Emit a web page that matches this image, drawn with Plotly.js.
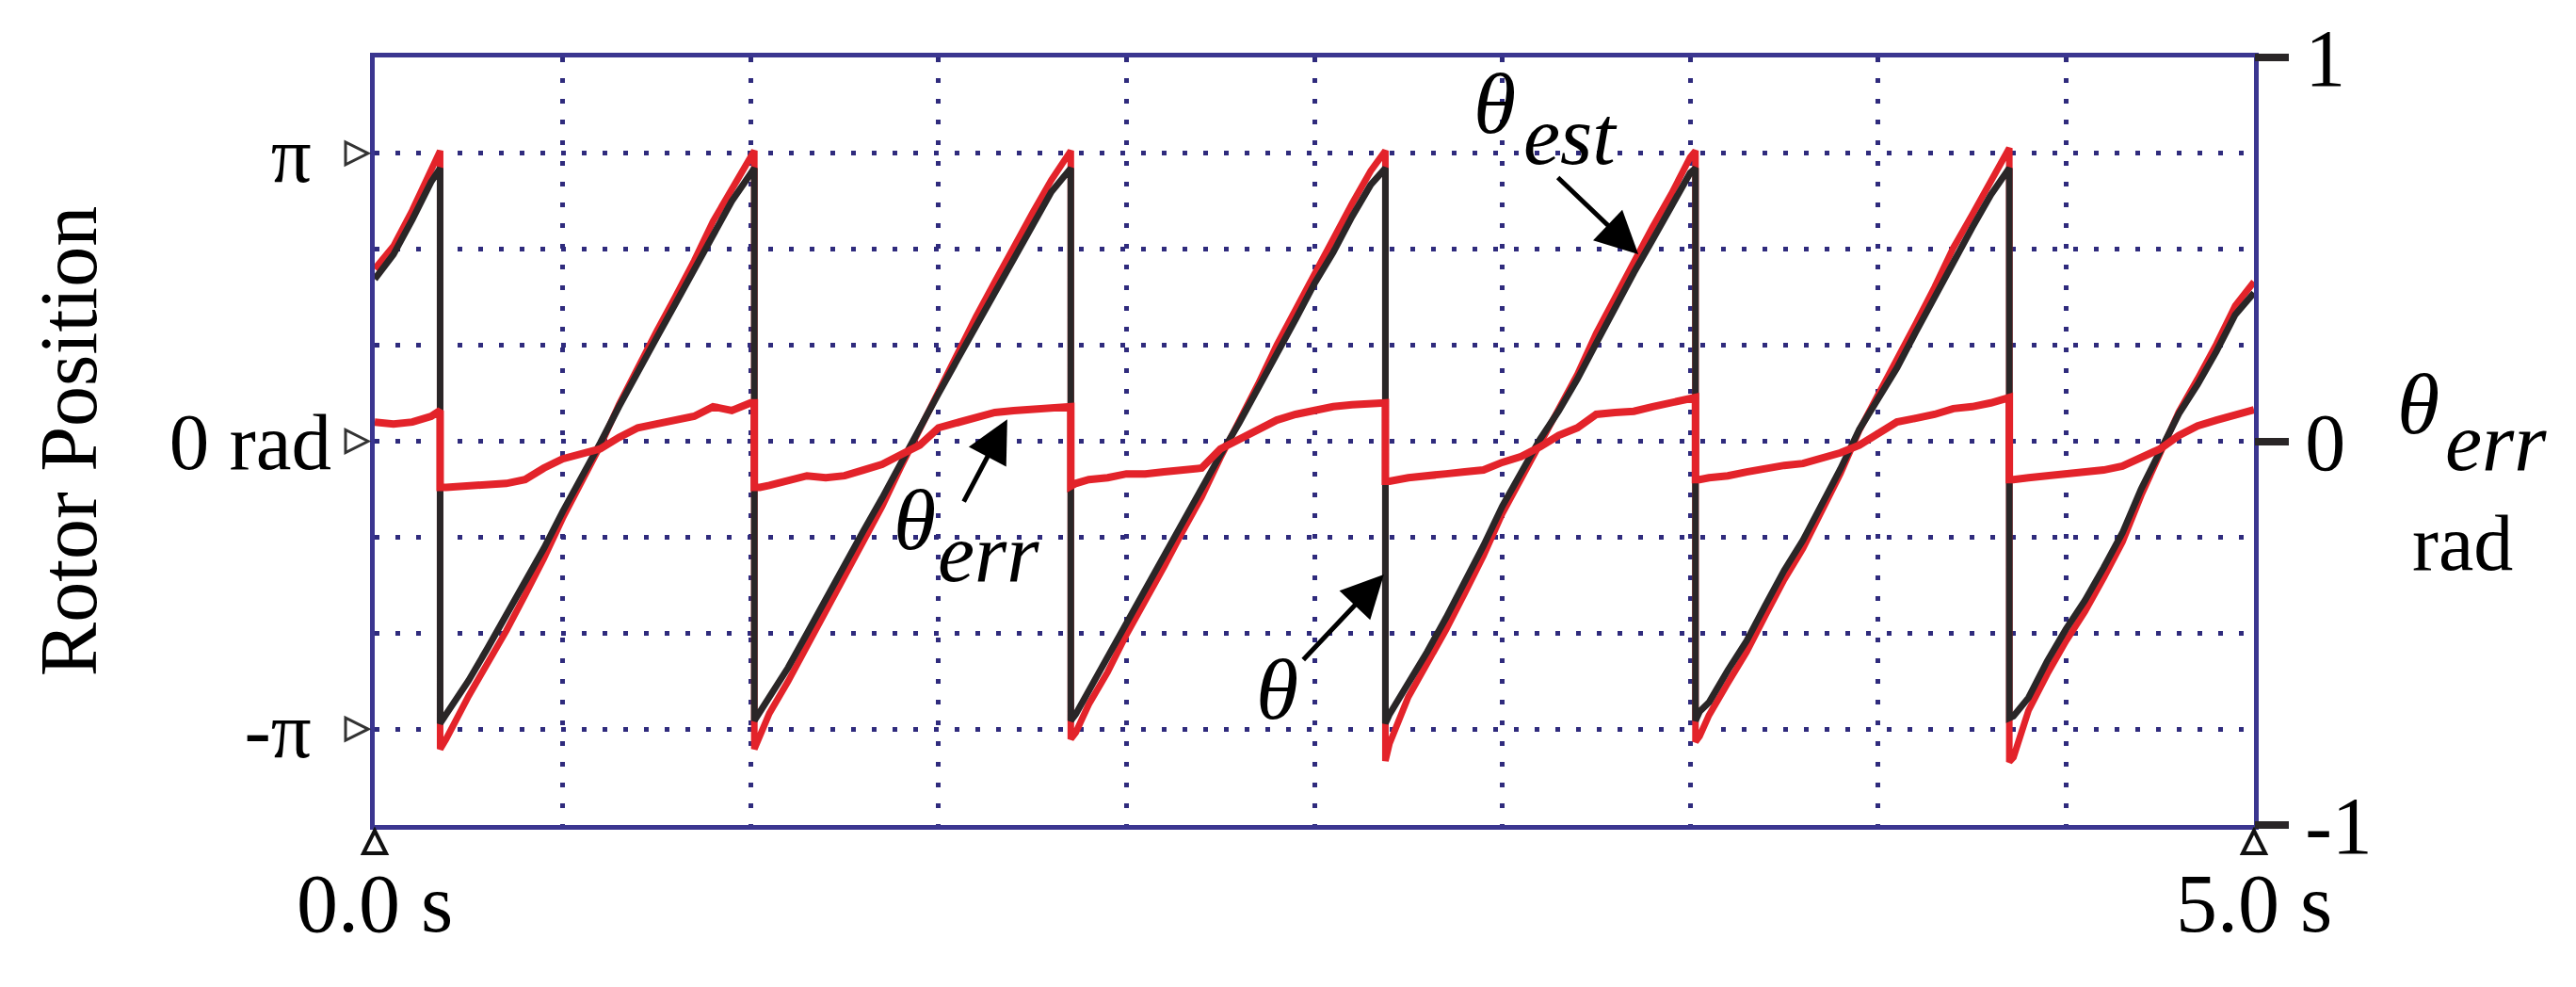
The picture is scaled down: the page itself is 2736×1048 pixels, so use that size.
<!DOCTYPE html>
<html>
<head>
<meta charset="utf-8">
<script src="https://cdn.plot.ly/plotly-3.0.1.min.js"></script>
<style>
  html, body { margin: 0; padding: 0; background: #fff; }
</style>
</head>
<body>
<div id="chart" style="width:2736px;height:1048px;"></div>
<script>
// time base (s), jumps are repeated x values
const time = [
  0, 0.05, 0.1, 0.15, 0.174,
  0.174, 0.19,
  0.25, 0.3, 0.35, 0.4, 0.45, 0.5, 0.55, 0.6, 0.65, 0.7, 0.75, 0.8, 0.85, 0.9, 0.95, 1.0,
  1.01, 1.01, 1.025,
  1.05, 1.1, 1.15, 1.2, 1.25, 1.3, 1.35, 1.4, 1.45, 1.5, 1.55, 1.6, 1.65, 1.7, 1.75, 1.8,
  1.852, 1.852, 1.865,
  1.9, 1.95, 2.0, 2.05, 2.1, 2.15, 2.2, 2.25, 2.3, 2.35, 2.4, 2.45, 2.5, 2.55, 2.6, 2.65,
  2.689, 2.689, 2.7,
  2.75, 2.8, 2.85, 2.9, 2.95, 3.0, 3.05, 3.1, 3.15, 3.2, 3.25, 3.3, 3.35, 3.4, 3.45, 3.5,
  3.514, 3.514, 3.525,
  3.55, 3.6, 3.65, 3.7, 3.75, 3.8, 3.85, 3.9, 3.95, 4.0, 4.05, 4.1, 4.15, 4.2, 4.25, 4.3,
  4.349, 4.349, 4.36,
  4.4, 4.45, 4.5, 4.55, 4.6, 4.65, 4.7, 4.75, 4.8, 4.85, 4.9, 4.95, 5.0
];

// rotor position theta (rad), black trace
const theta = [
  1.77, 2.04, 2.42, 2.83, 2.98,
  -3.08, -2.98,
  -2.61, -2.26, -1.90, -1.53, -1.17, -0.77, -0.40, -0.02, 0.38, 0.77, 1.13, 1.50, 1.87, 2.26, 2.62, 2.92,
  2.98, -3.05, -2.95,
  -2.80, -2.47, -2.10, -1.72, -1.35, -0.98, -0.62, -0.23, 0.14, 0.52, 0.89, 1.26, 1.63, 2.01, 2.37, 2.72,
  2.98, -3.05, -2.98,
  -2.72, -2.38, -1.98, -1.62, -1.25, -0.87, -0.50, -0.15, 0.20, 0.57, 0.97, 1.33, 1.72, 2.06, 2.45, 2.80,
  2.98, -3.08, -2.98,
  -2.65, -2.30, -1.93, -1.54, -1.14, -0.71, -0.35, 0.02, 0.33, 0.68, 1.07, 1.46, 1.84, 2.20, 2.55, 2.93,
  2.98, -3.05, -2.95,
  -2.85, -2.50, -2.18, -1.79, -1.41, -1.08, -0.70, -0.30, 0.13, 0.47, 0.80, 1.19, 1.57, 1.98, 2.33, 2.69,
  2.98, -3.02, -3.00,
  -2.80, -2.40, -2.05, -1.74, -1.38, -1.00, -0.52, -0.12, 0.30, 0.62, 0.98, 1.38, 1.62
];

// estimated position theta_est (rad), red trace
const thetaEst = [
  1.88, 2.13, 2.52, 2.95, 3.17,
  -3.36, -3.25,
  -2.78, -2.43, -2.07, -1.68, -1.28, -0.84, -0.45, -0.05, 0.40, 0.82, 1.20, 1.58, 1.97, 2.40, 2.74, 3.07,
  3.17, -3.36, -3.20,
  -2.97, -2.62, -2.24, -1.86, -1.49, -1.09, -0.71, -0.28, 0.13, 0.57, 0.97, 1.36, 1.74, 2.13, 2.49, 2.85,
  3.17, -3.25, -3.18,
  -2.87, -2.52, -2.11, -1.75, -1.37, -0.98, -0.61, -0.18, 0.21, 0.62, 1.05, 1.44, 1.84, 2.20, 2.59, 2.95,
  3.17, -3.49, -3.30,
  -2.79, -2.43, -2.06, -1.66, -1.25, -0.79, -0.41, 0.00, 0.35, 0.73, 1.18, 1.57, 1.96, 2.34, 2.70, 3.10,
  3.17, -3.28, -3.22,
  -2.99, -2.64, -2.30, -1.90, -1.51, -1.17, -0.77, -0.35, 0.12, 0.50, 0.88, 1.28, 1.68, 2.11, 2.47, 2.84,
  3.20, -3.50, -3.45,
  -2.94, -2.54, -2.18, -1.86, -1.49, -1.10, -0.59, -0.15, 0.32, 0.68, 1.06, 1.48, 1.74
];

// position error theta_err (rad), right axis
const thetaErr = [
  0.05, 0.045, 0.05, 0.065, 0.08,
  -0.12, -0.12,
  -0.115, -0.115, -0.11, -0.10, -0.07, -0.046, -0.035, -0.02, 0.01, 0.035, 0.045, 0.055, 0.065, 0.09, 0.08, 0.10,
  0.10, -0.12, -0.12,
  -0.115, -0.10, -0.09, -0.095, -0.09, -0.075, -0.06, -0.035, -0.01, 0.035, 0.05, 0.065, 0.075, 0.08, 0.082, 0.085,
  0.09, -0.117, -0.11,
  -0.10, -0.095, -0.085, -0.085, -0.08, -0.075, -0.07, -0.02, 0.005, 0.03, 0.055, 0.07, 0.082, 0.09, 0.095, 0.10,
  0.10, -0.104, -0.104,
  -0.095, -0.088, -0.085, -0.08, -0.075, -0.055, -0.04, -0.015, 0.015, 0.035, 0.07, 0.075, 0.078, 0.09, 0.10, 0.114,
  0.114, -0.10, -0.10,
  -0.095, -0.09, -0.08, -0.07, -0.063, -0.058, -0.045, -0.03, -0.01, 0.02, 0.05, 0.06, 0.07, 0.085, 0.09, 0.10,
  0.114, -0.10, -0.10,
  -0.095, -0.09, -0.085, -0.08, -0.075, -0.065, -0.045, -0.02, 0.015, 0.04, 0.055, 0.068, 0.082
];

const posTickVals = [-Math.PI, -2 * Math.PI / 3, -Math.PI / 3, 0, Math.PI / 3, 2 * Math.PI / 3, Math.PI];
const posTickText = ["-π\u00a0", "", "", "0 rad", "", "", "π\u00a0"];
const markedPos = [-Math.PI, 0, Math.PI];

const timeRange = [0, 5];
const timeTickVals = [0, 0.5, 1, 1.5, 2, 2.5, 3, 3.5, 4, 4.5, 5];
const timeTickText = ["0.0 s", "", "", "", "", "", "", "", "", "", "5.0 s"];
const markedTime = [0, 5];

const errTickVals = [-1, 0, 1];
const errTickText = ["-1", "0", "1"];

const navy = "#2f2b7d";
const frame = "#3b3690";
const dark = "#2a2627";
const red = "#e3232a";
const serif = "Liberation Serif, Times New Roman, serif";

const traces = [
  {
    x: time, y: thetaEst, type: "scatter", mode: "lines", name: "θ est",
    line: { color: red, width: 7 },
  },
  {
    x: time, y: theta, type: "scatter", mode: "lines", name: "θ",
    line: { color: dark, width: 7 },
  },
  {
    x: time, y: thetaErr, type: "scatter", mode: "lines", name: "θ err", yaxis: "y2",
    line: { color: red, width: 8 },
  },
];

// open triangle markers beside the axes (pixel-sized shapes)
const shapes = [];
markedPos.forEach((v) => {
  shapes.push({
    type: "path", xref: "paper", yref: "y", xsizemode: "pixel", ysizemode: "pixel",
    xanchor: 0, yanchor: v, path: "M-7,0L-31,12L-31,-12Z",
    line: { color: "#333", width: 3 }, fillcolor: "#fff", layer: "above",
  });
});
markedTime.forEach((t) => {
  shapes.push({
    type: "path", xref: "paper", yref: "paper", xsizemode: "pixel", ysizemode: "pixel",
    xanchor: (t - timeRange[0]) / (timeRange[1] - timeRange[0]), yanchor: 0,
    path: "M0,-6L-12,-30L12,-30Z",
    line: { color: "#111", width: 4 }, fillcolor: "#fff", layer: "above",
  });
});

const annotations = [];

// curve labels
const big = { family: serif, size: 92, color: "#000" };
const sub = { family: serif, size: 88, color: "#000" };
const label = (x, y, text, font) => ({
  xref: "paper", yref: "paper", x: x, y: y, xanchor: "center", yanchor: "middle",
  text: text, showarrow: false, font: font,
});
annotations.push(
  label(0.5959, 0.94, "<i>θ</i>", big),
  label(0.6363, 0.8975, "<i>est</i>", sub),
  label(0.2871, 0.3975, "<i>θ</i>", big),
  label(0.3269, 0.3546, "<i>err</i>", sub),
  label(0.4802, 0.1773, "<i>θ</i>", big),
  // right axis title
  label(1.0874, 0.548, "<i>θ</i>", big),
  label(1.1288, 0.4982, "<i>err</i>", sub),
  label(1.111, 0.3669, "rad", { family: serif, size: 84, color: "#000" })
);

// arrows
const arrow = { text: "", showarrow: true, arrowhead: 2, arrowsize: 1.8, arrowwidth: 5, arrowcolor: "#000", standoff: 0 };
annotations.push(
  Object.assign({}, arrow, { xref: "x", yref: "y", x: 3.362, y: 2.04, ax: -87, ay: -83 }),
  Object.assign({}, arrow, { xref: "x", yref: "y", x: 1.683, y: 0.24, ax: -47, ay: 89 }),
  Object.assign({}, arrow, { xref: "x", yref: "y", x: 2.685, y: -1.455, ax: -87, ay: 92 })
);

const layout = {
  width: 2736,
  height: 1048,
  margin: { l: 398, r: 342, t: 61, b: 172 },
  paper_bgcolor: "#fff",
  plot_bgcolor: "#fff",
  showlegend: false,
  font: { family: serif, size: 86, color: "#000" },
  xaxis: {
    range: timeRange,
    tickmode: "array", tickvals: timeTickVals, ticktext: timeTickText,
    ticks: "", ticklabelstandoff: 2,
    tickfont: { family: serif, size: 88, color: "#000" },
    showgrid: true, gridcolor: navy, gridwidth: 5, griddash: "5px,17px",
    zeroline: false, showline: true, mirror: true, linecolor: frame, linewidth: 5,
  },
  yaxis: {
    range: [-4 * Math.PI / 3, 4 * Math.PI / 3],
    tickmode: "array", tickvals: posTickVals, ticktext: posTickText,
    ticks: "", ticklabelstandoff: 24,
    tickfont: { family: serif, size: 85, color: "#000" },
    showgrid: true, gridcolor: navy, gridwidth: 5, griddash: "5px,17px",
    zeroline: false, showline: true, mirror: true, linecolor: frame, linewidth: 5,
    title: { text: "Rotor Position", font: { family: serif, size: 86, color: "#000" }, standoff: 50 },
  },
  yaxis2: {
    overlaying: "y", side: "right",
    range: [-1, 1],
    tickmode: "array", tickvals: errTickVals, ticktext: errTickText,
    ticks: "outside", ticklen: 36, tickwidth: 8, tickcolor: dark,
    ticklabelstandoff: 0,
    tickfont: { family: serif, size: 86, color: "#000" },
    showgrid: false, zeroline: false, showline: false,
  },
  shapes: shapes,
  annotations: annotations,
};

Plotly.newPlot("chart", traces, layout, { displayModeBar: false, staticPlot: true });
</script>
</body>
</html>
